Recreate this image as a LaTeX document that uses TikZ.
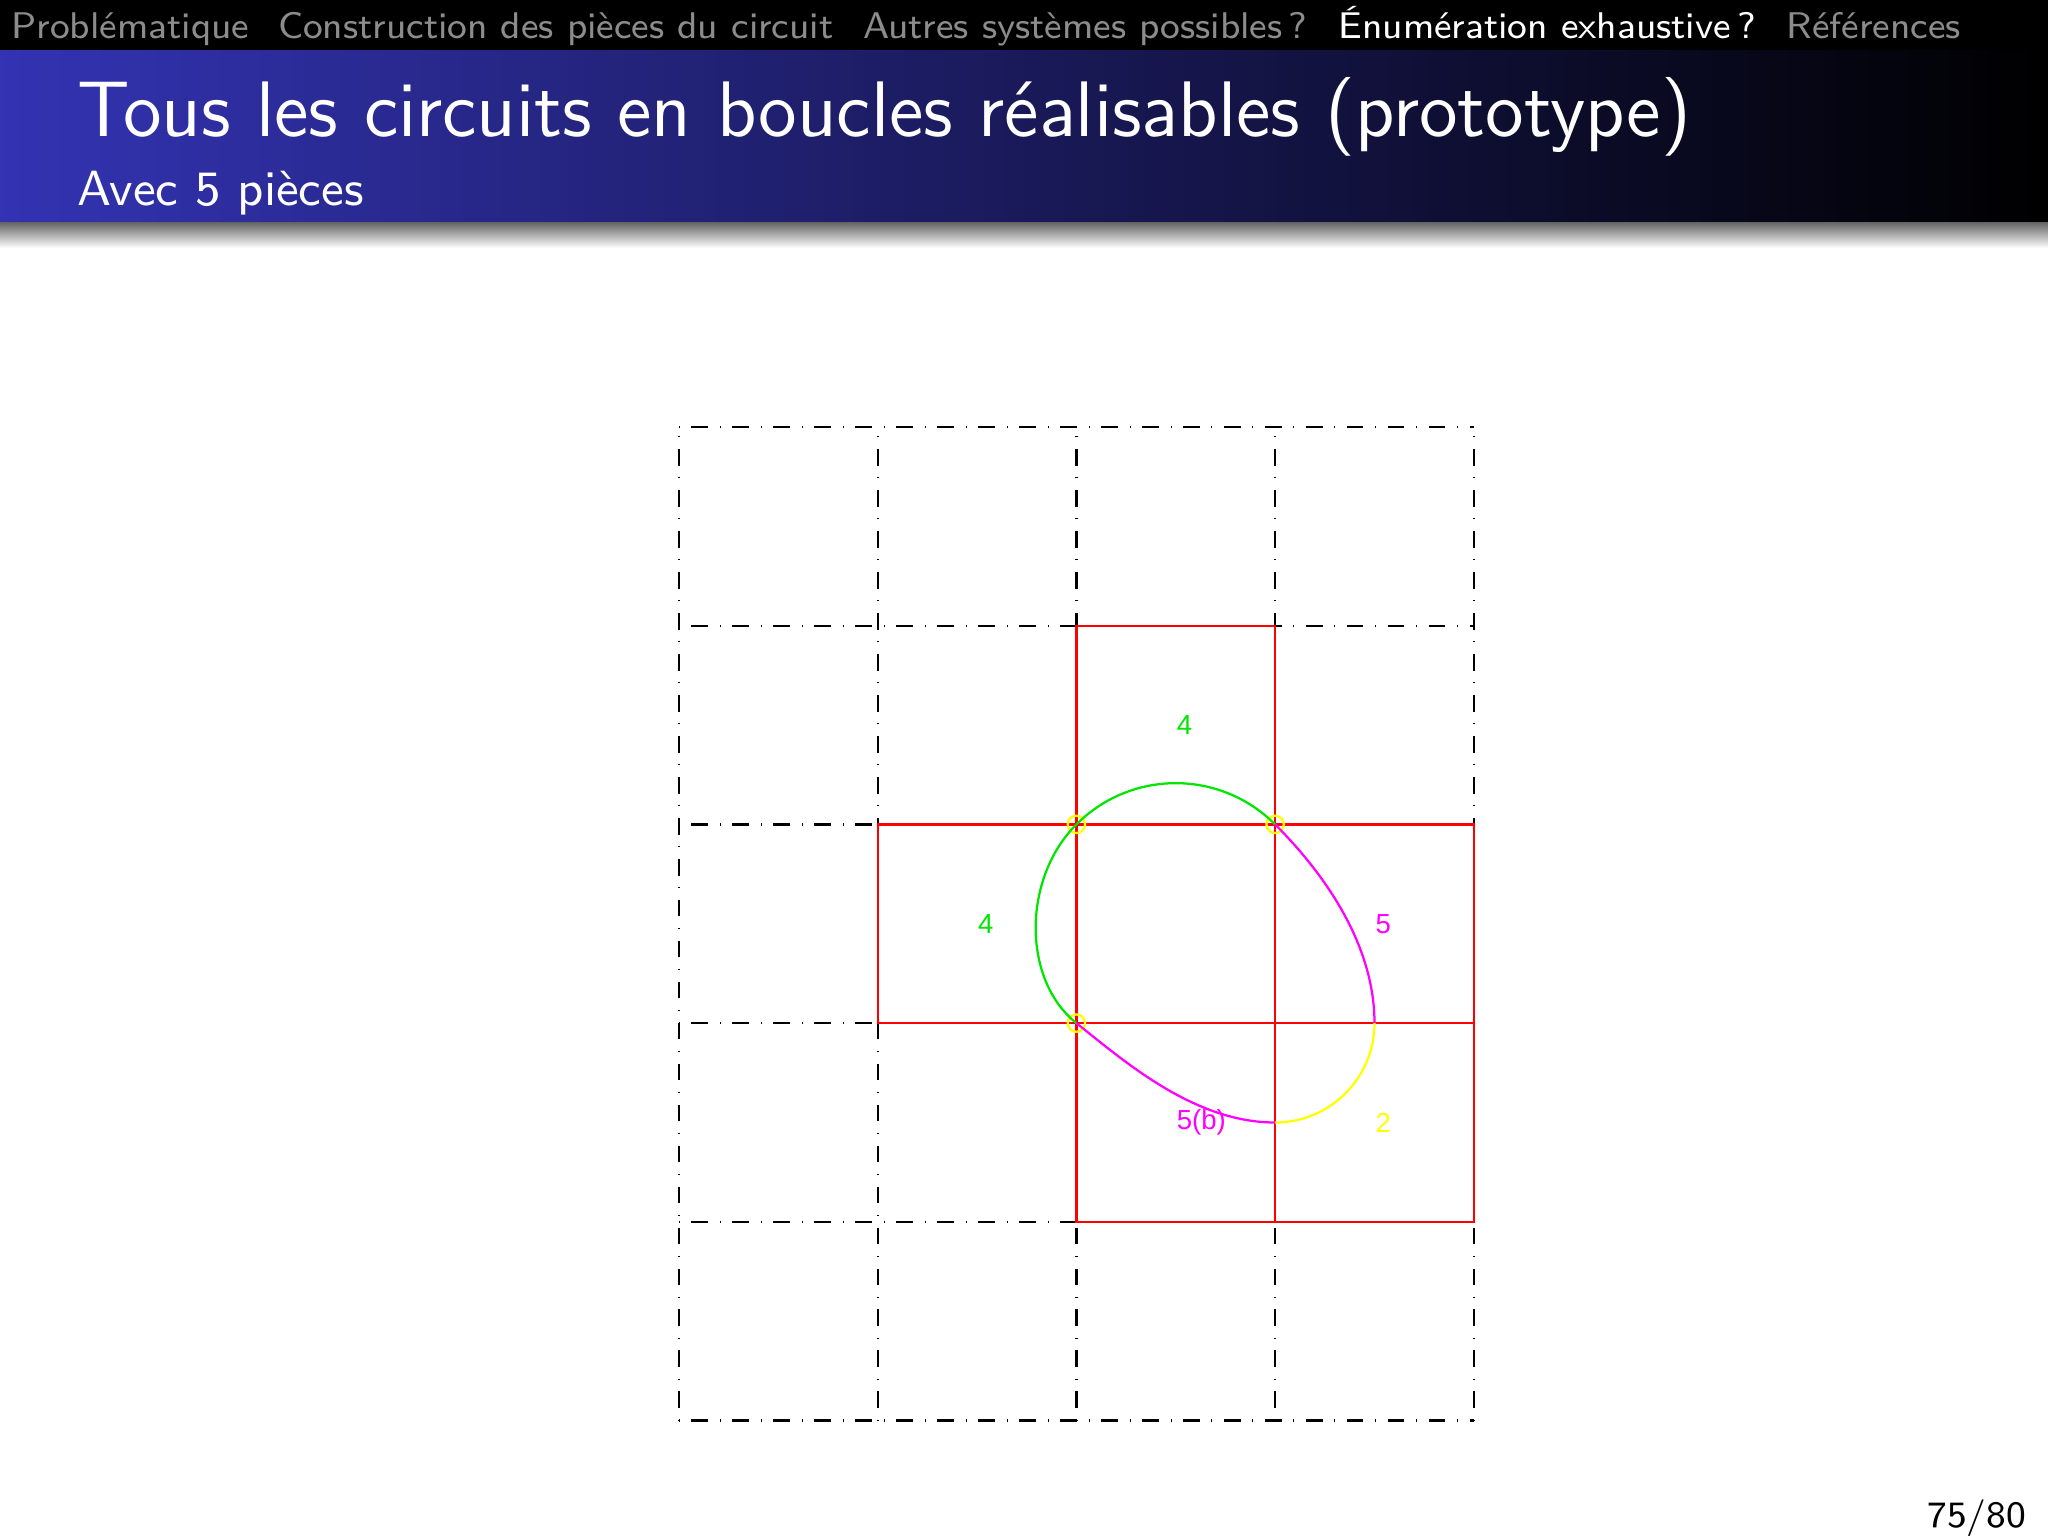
\documentclass[tikz,border=0pt]{standalone}
\usepackage{fontspec}
\newfontfamily\labelfont{Liberation Sans}
\usepackage{tikz}
\definecolor{structblue}{RGB}{51,51,179}
\definecolor{navgray}{RGB}{140,140,140}
\definecolor{piecegreen}{RGB}{0,230,0}
\definecolor{piecemagenta}{RGB}{255,0,255}
\definecolor{pieceyellow}{RGB}{255,255,0}
\definecolor{piecered}{RGB}{255,0,0}

\begin{document}
\begin{tikzpicture}[x=0.0625mm,y=0.0625mm,yscale=-1,xscale=1,
  gridline/.style={line width=0.4pt, dash pattern=on 0.06mm off 0.72mm on 1.04mm off 0.74mm},
  piececell/.style={piecered, line width=0.4pt},
  piecelabel/.style={font=\labelfont\fontsize{4.9}{5.5}\selectfont, inner sep=0pt, anchor=west},
  navtext/.style={font=\sffamily\fontsize{6.6}{8}\selectfont, inner sep=0pt, anchor=base west}]
\useasboundingbox (0,0) rectangle (2048,1536);

%Header bars
\fill[black] (0,0) rectangle (2048,50);
\shade[left color=structblue, right color=black] (0,50) rectangle (2048,222.5);
\shade[top color=black!60, bottom color=white] (0,222.5) rectangle (2048,248);

% Text Node
\node (navA) [navtext, navgray] at (10.4,39) {Problématique};
% Text Node
\node (navB) [navtext, navgray] at (276.9,39) {Construction des pièces du circuit};
% Text Node
\node (navC) [navtext, navgray] at (862,39) {Autres systèmes possibles\,?};
% Text Node
\node (navD) [navtext, white] at (1337.5,39) {Énumération exhaustive\,?};
% Text Node
\node (navE) [navtext, navgray] at (1785.4,39) {Références};
% Text Node
\node (title) [anchor=base west, inner sep=0pt, white, font=\sffamily\fontsize{14}{17}\selectfont] at (76,136.7) {Tous les circuits en boucles réalisables (prototype)};
% Text Node
\node (subtitle) [anchor=base west, inner sep=0pt, white, font=\sffamily\fontsize{8.8}{10.5}\selectfont] at (76,205) {Avec 5 pièces};
% Text Node
\node (pagenum) [anchor=base east, inner sep=0pt, black, font=\sffamily\fontsize{6.6}{8}\selectfont] at (2027,1527) {75/80};

%Straight Lines (rows)
\draw [gridline] (679,427) -- (1473.8,427) ;
\draw [gridline] (679,625.7) -- (1473.8,625.7) ;
\draw [gridline] (679,824.4) -- (1473.8,824.4) ;
\draw [gridline] (679,1023.1) -- (1473.8,1023.1) ;
\draw [gridline] (679,1221.8) -- (1473.8,1221.8) ;
\draw [gridline] (679,1420.5) -- (1473.8,1420.5) ;
%Straight Lines (columns)
\draw [gridline] (679,1420.5) -- (679,427) ;
\draw [gridline] (877.7,1420.5) -- (877.7,427) ;
\draw [gridline] (1076.4,1420.5) -- (1076.4,427) ;
\draw [gridline] (1275.1,1420.5) -- (1275.1,427) ;
\draw [gridline] (1473.8,1420.5) -- (1473.8,427) ;

%Pieces cells
\draw [piececell] (1076.4,625.7) rectangle (1275.1,824.4) ;
\draw [piececell] (877.7,824.4) rectangle (1076.4,1023.1) ;
\draw [piececell] (1275.1,824.4) rectangle (1473.8,1023.1) ;
\draw [piececell] (1076.4,1023.1) rectangle (1275.1,1221.8) ;
\draw [piececell] (1275.1,1023.1) rectangle (1473.8,1221.8) ;

%Junctions
\coordinate (A) at (1076.4,824.4);
\coordinate (B) at (1275.1,824.4);
\coordinate (C) at (1076.4,1023.1);
\coordinate (D) at (1374.5,1023.1);
\coordinate (E) at (1275.1,1122.5);
\draw [pieceyellow] (A) circle [radius=8.7] ;
\draw [pieceyellow] (B) circle [radius=8.7] ;
\draw [pieceyellow] (C) circle [radius=8.7] ;

%Curve Lines
\draw [piecegreen] (A) .. controls (1131.4,769.4) and (1220.1,769.4) .. (B) ;
%Curve Lines
\draw [piecegreen] (A) .. controls (1022.1,878.7) and (1022.1,980) .. (C) ;
%Curve Lines
\draw [piecemagenta] (B) .. controls (1325.1,874.4) and (1374.5,945) .. (D) ;
%Curve Lines
\draw [pieceyellow] (D) .. controls (1374.5,1078) and (1330,1122.5) .. (E) ;
%Curve Lines
\draw [piecemagenta] (E) .. controls (1195.1,1122.5) and (1126.4,1063.1) .. (C) ;

% Text Node
\node (lblTop) [piecelabel, piecegreen] at (1175.75,725.35) {4};
% Text Node
\node (lblLeft) [piecelabel, piecegreen] at (977.05,924.05) {4};
% Text Node
\node (lblRight) [piecelabel, piecemagenta] at (1374.45,924.05) {5};
% Text Node
\node (lblBottom) [piecelabel, piecemagenta] at (1175.75,1122.75) {5(b)};
% Text Node
\node (lblCorner) [piecelabel, pieceyellow] at (1374.45,1122.75) {2};

\end{tikzpicture}
\end{document}
